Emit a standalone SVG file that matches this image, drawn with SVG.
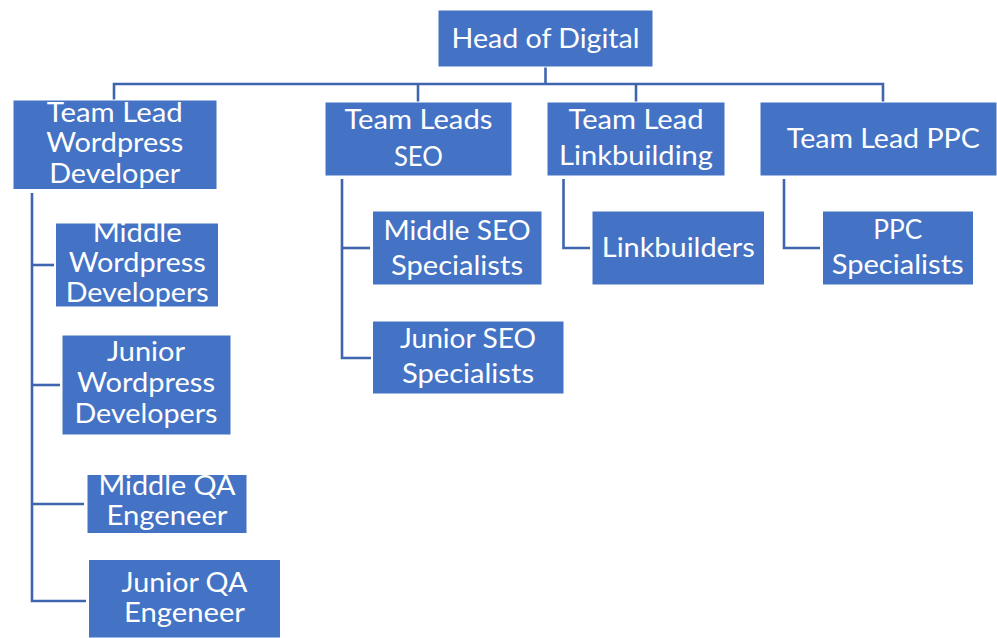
<svg xmlns="http://www.w3.org/2000/svg" width="997" height="638" viewBox="0 0 997 638">
  <style>
    .box { fill: #4472C4; stroke: #ffffff; stroke-width: 1; }
    .lbl { font-family: Lato, "Open Sans", "Liberation Sans", sans-serif; font-size: 27px; fill: #ffffff; text-anchor: middle; }
    .tight { font-size: 26px; }
    .wire { fill: none; stroke: #3F65AF; stroke-width: 2.6; stroke-linejoin: miter; }
  </style>
  <rect width="997" height="638" fill="#ffffff"/>

  <!-- connectors -->
  <g id="connectors" class="wire">
    <path d="M545.5 67 V84"/>
    <path d="M114 100 V84 H883 V102"/>
    <path d="M418 84 V102"/>
    <path d="M636 84 V102"/>
    <path d="M32 193 V601 H86"/>
    <path d="M32 265 H54"/>
    <path d="M32 385 H60"/>
    <path d="M32 504 H84"/>
    <path d="M342 179 V358 H371"/>
    <path d="M342 248 H370"/>
    <path d="M563.5 179 V248 H590"/>
    <path d="M784 179 V248 H820"/>
  </g>

  <g id="head-of-digital">
    <rect class="box" x="438" y="10" width="215" height="57"/>
    <text class="lbl" x="545.5" y="48" textLength="188" lengthAdjust="spacingAndGlyphs">Head of Digital</text>
  </g>

  <g id="team-lead-wordpress">
    <rect class="box" x="13" y="100" width="204" height="89.5"/>
    <text class="lbl" x="114.7" y="121.7" textLength="136" lengthAdjust="spacingAndGlyphs">Team Lead</text>
    <text class="lbl" x="114.7" y="152.3" textLength="137" lengthAdjust="spacingAndGlyphs">Wordpress</text>
    <text class="lbl" x="114.7" y="182.5" textLength="131" lengthAdjust="spacingAndGlyphs">Developer</text>
  </g>

  <g id="team-leads-seo">
    <rect class="box" x="325" y="102" width="187" height="74"/>
    <text class="lbl" x="418.4" y="129.3" textLength="148" lengthAdjust="spacingAndGlyphs">Team Leads</text>
    <text class="lbl" x="418.4" y="165.7" textLength="49" lengthAdjust="spacingAndGlyphs">SEO</text>
  </g>

  <g id="team-lead-linkbuilding">
    <rect class="box" x="547" y="102" width="178" height="74"/>
    <text class="lbl" x="636" y="129.3" textLength="135" lengthAdjust="spacingAndGlyphs">Team Lead</text>
    <text class="lbl" x="636" y="165" textLength="154" lengthAdjust="spacingAndGlyphs">Linkbuilding</text>
  </g>

  <g id="team-lead-ppc">
    <rect class="box" x="760" y="102" width="237" height="74"/>
    <text class="lbl" x="883.3" y="147.7" textLength="193" lengthAdjust="spacingAndGlyphs">Team Lead PPC</text>
  </g>

  <g id="middle-wordpress-developers">
    <rect class="box" x="55.5" y="223" width="163" height="84"/>
    <text class="lbl" x="137.2" y="241.7" textLength="89" lengthAdjust="spacingAndGlyphs">Middle</text>
    <text class="lbl" x="137.2" y="271.7" textLength="137" lengthAdjust="spacingAndGlyphs">Wordpress</text>
    <text class="lbl" x="137.2" y="301.7" textLength="143" lengthAdjust="spacingAndGlyphs">Developers</text>
  </g>

  <g id="junior-wordpress-developers">
    <rect class="box" x="62" y="335" width="169" height="100"/>
    <text class="lbl" x="146" y="360.7" textLength="78" lengthAdjust="spacingAndGlyphs">Junior</text>
    <text class="lbl" x="146" y="391.7" textLength="138" lengthAdjust="spacingAndGlyphs">Wordpress</text>
    <text class="lbl" x="146" y="423.3" textLength="143" lengthAdjust="spacingAndGlyphs">Developers</text>
  </g>

  <g id="middle-qa-engineer">
    <rect class="box" x="87" y="474.5" width="160" height="59"/>
    <text class="lbl tight" x="167" y="495.3" textLength="137" lengthAdjust="spacingAndGlyphs">Middle QA</text>
    <text class="lbl tight" x="167" y="524.5" textLength="121" lengthAdjust="spacingAndGlyphs">Engeneer</text>
  </g>

  <g id="junior-qa-engineer">
    <rect class="box" x="88.5" y="559.5" width="192" height="78.5"/>
    <text class="lbl" x="184.5" y="591.7" textLength="126" lengthAdjust="spacingAndGlyphs">Junior QA</text>
    <text class="lbl" x="184.5" y="621.7" textLength="121" lengthAdjust="spacingAndGlyphs">Engeneer</text>
  </g>

  <g id="middle-seo-specialists">
    <rect class="box" x="372.5" y="211" width="169.5" height="74"/>
    <text class="lbl" x="457" y="240" textLength="147" lengthAdjust="spacingAndGlyphs">Middle SEO</text>
    <text class="lbl" x="457" y="275" textLength="132" lengthAdjust="spacingAndGlyphs">Specialists</text>
  </g>

  <g id="junior-seo-specialists">
    <rect class="box" x="372.5" y="321" width="191.5" height="73"/>
    <text class="lbl" x="468" y="348.3" textLength="136" lengthAdjust="spacingAndGlyphs">Junior SEO</text>
    <text class="lbl" x="468" y="382.7" textLength="132" lengthAdjust="spacingAndGlyphs">Specialists</text>
  </g>

  <g id="linkbuilders">
    <rect class="box" x="592" y="211" width="172.5" height="74"/>
    <text class="lbl" x="678.3" y="256.7" textLength="153" lengthAdjust="spacingAndGlyphs">Linkbuilders</text>
  </g>

  <g id="ppc-specialists">
    <rect class="box" x="822.5" y="211" width="151" height="74"/>
    <text class="lbl" x="897.7" y="239.3" textLength="49" lengthAdjust="spacingAndGlyphs">PPC</text>
    <text class="lbl" x="897.7" y="274" textLength="132" lengthAdjust="spacingAndGlyphs">Specialists</text>
  </g>
</svg>
